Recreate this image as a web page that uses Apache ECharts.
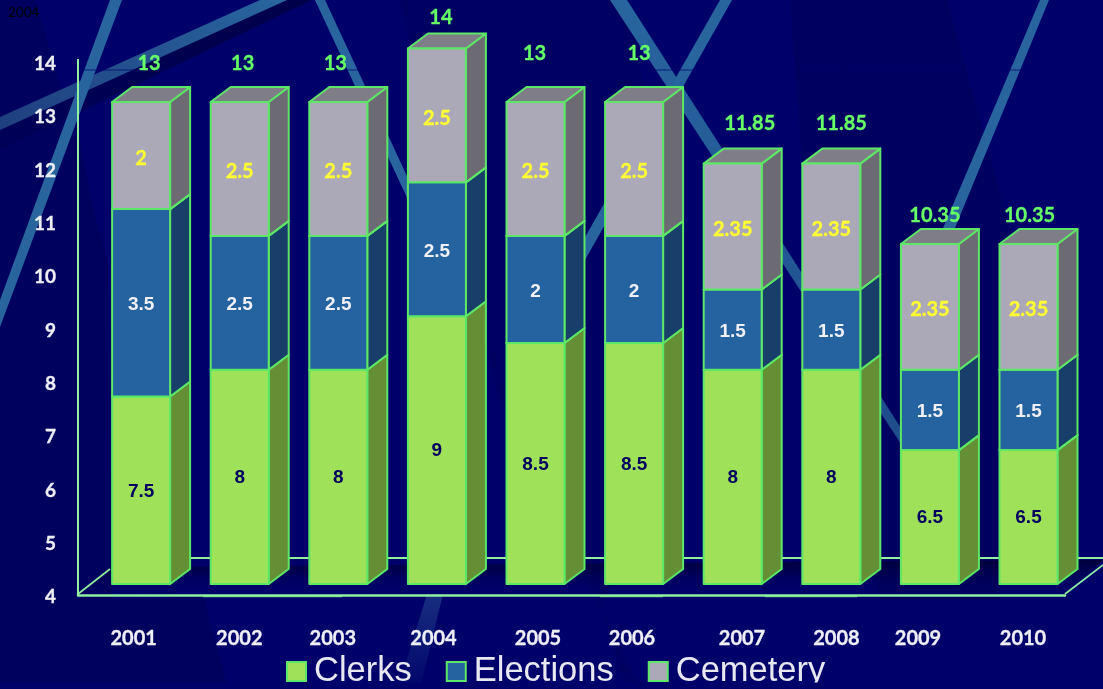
<!DOCTYPE html>
<html><head><meta charset="utf-8">
<style>html,body{margin:0;padding:0;background:#00006a;overflow:hidden}#c{width:1103px;height:689px}</style>
<script src="https://cdn.jsdelivr.net/npm/echarts@6/dist/echarts.min.js"></script>
</head><body><div id="c"></div>
<script>
const years = ['2001','2002','2003','2004','2005','2006','2007','2008','2009','2010'];
const clerks = [7.5,8,8,9,8.5,8.5,8,8,6.5,6.5];
const elections = [3.5,2.5,2.5,2.5,2,2,1.5,1.5,1.5,1.5];
const cemetery = [2,2.5,2.5,2.5,2.5,2.5,2.35,2.35,2.35,2.35];
const totals = [13,13,13,14,13,13,11.85,11.85,10.35,10.35];
const yTicks = [4,5,6,7,8,9,10,11,12,13,14];

// styling / placement constants
const totalDx = [8,3,-3,4,-1,5,17,10,5,1];
const totalDy = [-38.5,-38.5,-38.5,-31,-48.5,-48.5,-40.2,-40.2,-28.5,-28.5];
const yearShift = [-7.4,-0.4,-5.5,-3.4,2.5,-2.1,9.3,5.1,-11.9,-5.5];
const BAR_W = 58, DX = 20, DY = -15, EDGE = '#5CE766', AXIS = '#8FF0A0';
const BG = '#00006a';

function boxRenderer(style){
  return function(params, api){
    const i = api.value(0), a = api.value(1), b = api.value(2), shown = api.value(3);
    const p0 = api.coord([i, a]), p1 = api.coord([i, b]);
    const l = p0[0]-BAR_W/2, r = p0[0]+BAR_W/2, yb = p0[1], yt = p1[1];
    const ln = {stroke:EDGE, lineWidth:2, lineJoin:'round'};
    return {type:'group', children:[
      {type:'polygon', shape:{points:[[r,yb],[r+DX,yb+DY],[r+DX,yt+DY],[r,yt]]}, style:{fill:style.side, ...ln}},
      {type:'polygon', shape:{points:[[l,yt],[l+DX,yt+DY],[r+DX,yt+DY],[r,yt]]}, style:{fill:style.top, ...ln}},
      {type:'rect', shape:{x:l,y:yt,width:BAR_W,height:yb-yt}, style:{fill:style.front, ...ln}},
      {type:'text', x:(l+r)/2, y:(yb+yt)/2+style.lift, style:{text:String(shown), fill:style.text, fontFamily:style.family, fontSize:style.size, fontWeight:'bold', align:'center', verticalAlign:'middle', stroke:style.text, lineWidth:style.thick}}
    ]};
  };
}

let running = years.map(()=>0);
function stacked(values){
  const out = values.map((v,i)=>[i, Math.max(4,running[i]), running[i]+v, v]);
  running = running.map((s,i)=>s+values[i]);
  return out;
}
function boxSeries(name, values, style){
  return {name, type:'custom', z:10, xAxisIndex:0, yAxisIndex:0, clip:false, silent:true,
    encode:{x:0,y:2}, data:stacked(values), renderItem:boxRenderer(style),
    itemStyle:{color:style.front, borderColor:EDGE, borderWidth:1.6}};
}

// background decoration
function poly(points, fill, z){ return {type:'polygon', z:z||0, silent:true, shape:{points}, style:{fill}}; }
function grad(x,y,x2,y2,c0,c1){ return {type:'linear',global:true,x,y,x2,y2,colorStops:[{offset:0,color:c0},{offset:1,color:c1}]}; }
const BLUE = '#28659f';
const graphics = [
  poly([[0,0],[35,0],[60,85],[78,130],[92,205],[108,262],[112,600],[203,596],[228,689],[0,689]],'#00005e'),
  poly([[790,0],[947,0],[1013,240],[1000,600],[880,600],[805,200]],'#000060'),
  poly([[400,0],[630,0],[645,100],[680,520],[600,600],[625,689],[640,689],[500,400]],'#000062'),
  poly([[0,130],[287,0],[312,0],[0,150]],grad(0,140,300,0,'#000058','#00004a'),0),
  poly([[0,117],[260,0],[287,0],[0,130]],grad(0,120,280,0,'#1f3f80',BLUE),1),
  poly([[110,0],[122,0],[0,327],[0,300]],BLUE,1),
  poly([[315,0],[325,0],[460,290],[450,290]],BLUE,1),
  poly([[610,0],[627,0],[915,450],[905,450]],grad(0,0,0,450,BLUE,'#1e4c8c'),1),
  poly([[720,0],[732,0],[585,260],[572,260]],BLUE,1),
  poly([[1040,0],[1049,0],[950,240],[938,240]],BLUE,1),
  poly([[427,594],[443,594],[420,689],[398,689]],grad(0,594,0,689,'#182e80','#00056a'),1),
  {type:'line', z:2, silent:true, shape:{x1:78,y1:70,x2:1103,y2:70}, style:{stroke:'rgba(0,0,110,.7)',lineWidth:1}},
  // floor
  poly([[80,594],[110,567],[1103,560],[1065,594]],grad(0,560,0,592,'rgba(0,0,50,.85)','rgba(0,0,90,0)'),2),
  {type:'line', z:3, silent:true, shape:{x1:112,y1:558,x2:1103,y2:558}, style:{stroke:AXIS,lineWidth:2}},
  {type:'line', z:3, silent:true, shape:{x1:78,y1:594,x2:110,y2:569}, style:{stroke:AXIS,lineWidth:1.6}},
  {type:'line', z:3, silent:true, shape:{x1:1065,y1:594,x2:1103,y2:565}, style:{stroke:AXIS,lineWidth:1.6}},
  {type:'line', z:3, silent:true, shape:{x1:78,y1:59,x2:78,y2:63}, style:{stroke:AXIS,lineWidth:2}},
  {type:'line', z:3, silent:true, shape:{x1:203,y1:596.5,x2:342,y2:596.5}, style:{stroke:'#5fb878',lineWidth:1.5}},
  {type:'line', z:3, silent:true, shape:{x1:600,y1:596.5,x2:663,y2:596.5}, style:{stroke:'#5fb878',lineWidth:1.5}},
  {type:'line', z:3, silent:true, shape:{x1:765,y1:596.5,x2:857,y2:596.5}, style:{stroke:'#5fb878',lineWidth:1.5}},
  // bottom crop of the legend
  {type:'rect', z:100, silent:true, shape:{x:0,y:682.5,width:1103,height:7}, style:{fill:BG}}
];

const rich = {};
yearShift.forEach((s,i)=>{
  rich['s'+i] = {fontFamily:'Lato',fontWeight:'bold',fontSize:20,color:'#EEEEF5',textBorderColor:'#EEEEF5',textBorderWidth:0.3,
    padding: s>=0 ? [0,0,0,2*s] : [0,-2*s,0,0]};
});

const chart = echarts.init(document.getElementById('c'));
chart.setOption({
  animation:false,
  backgroundColor:BG,
  title:{text:'2004', left:3, top:1, z:20, textStyle:{color:'#000000',fontFamily:'Lato',fontSize:13.5,fontWeight:'normal'}},
  graphic:graphics,
  legend:{left:281, top:649, z:20, icon:'rect', itemWidth:19, itemHeight:19, itemGap:34, selectedMode:false,
    data:['Clerks','Elections','Cemetery'],
    textStyle:{color:'#E8E8F2',fontFamily:'Liberation Sans',fontSize:34.5,padding:[0,0,0,3]}},
  grid:[
    {left:91.8, width:986, top:48.45, height:535.55},
    {left:78, right:38, top:62, bottom:94}
  ],
  xAxis:[
    {type:'category', gridIndex:0, z:20, data:years, axisLine:{show:false}, axisTick:{show:false},
     axisLabel:{interval:0, margin:45, formatter:(v,i)=>`{s${i}|${v}}`, rich}},
    {type:'category', gridIndex:1, z:5, data:years, axisTick:{show:false}, axisLabel:{show:false},
     axisLine:{show:true,lineStyle:{color:AXIS,width:2.5}}}
  ],
  yAxis:[
    {type:'value', gridIndex:0, min:4, max:14, show:false},
    {type:'value', gridIndex:1, z:5, min:yTicks[0], max:yTicks[yTicks.length-1], interval:1,
     splitLine:{show:false}, axisTick:{show:false},
     axisLine:{show:true,lineStyle:{color:AXIS,width:2}},
     axisLabel:{margin:22,formatter:v=>`{t|${v}}`,
       rich:{t:{padding:[4,0,0,0],color:'#EEEEF5',fontFamily:'Lato',fontWeight:'bold',fontSize:19,textBorderColor:'#EEEEF5',textBorderWidth:0.3}}}}
  ],
  series:[
    boxSeries('Clerks', clerks, {front:'#9FE25A',side:'#648F34',top:'#7FB048',text:'#00005F',family:'Liberation Sans',size:19,thick:0,lift:1}),
    boxSeries('Elections', elections, {front:'#24639F',side:'#173F69',top:'#1C4F80',text:'#F0F0F6',family:'Liberation Sans',size:19,thick:0,lift:2}),
    boxSeries('Cemetery', cemetery, {front:'#ABA9B8',side:'#6C6B74',top:'#7F7E88',text:'#FFFF33',family:'Lato',size:20,thick:0.3,lift:3}),
    {name:'Total', type:'custom', z:12, xAxisIndex:0, yAxisIndex:0, clip:false, silent:true, encode:{x:0,y:1},
     data:totals.map((t,i)=>[i,t]),
     renderItem(params, api){
       const i = api.value(0), t = api.value(1), p = api.coord([i,t]);
       return {type:'text', x:p[0]+totalDx[i], y:p[1]+totalDy[i],
         style:{text:String(t), fill:'#66FF66', fontFamily:'Lato', fontSize:20, fontWeight:'bold', align:'center', verticalAlign:'middle', stroke:'#66FF66', lineWidth:0.3}};
     }}
  ]
});
</script></body></html>
